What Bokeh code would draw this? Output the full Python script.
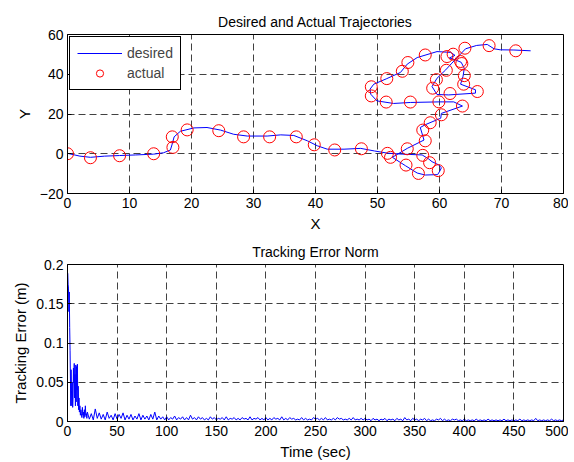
from bokeh.plotting import figure
from bokeh.layouts import column
from bokeh.models import FixedTicker, Legend, LegendItem, NumeralTickFormatter, Range1d
from bokeh.embed import file_html
from bokeh.resources import INLINE
import numpy as np

# ---------------- data: trajectories ----------------
x_desired = [0, 2, 3.7, 6, 8.4, 11, 13.9, 15.5, 16.6, 16.9, 17.2, 18.2, 20.4, 22.5, 24.7, 26.8,
             29, 32.2, 34.4, 36.5, 38.7, 40.3, 41.9, 44.6, 47.3, 49.5, 51.6, 54, 57.2, 58.2,
             58.8, 59.8, 60.3, 60.1, 59.7, 57.7, 56.4, 54.5, 52.4, 54.8, 57.5, 56.9, 57.7,
             60.2, 60.3, 63.7, 62.3, 59.9, 55.3, 52.6, 49.9, 48.9, 48.8, 49.4, 51.5, 53.7,
             54.8, 56.4, 59.6, 61.8, 62.5, 61.6, 62.6, 63.5, 64, 63.8, 63.4, 65.8, 65.8,
             61.5, 59.6, 58.8, 59.6, 61, 62, 62.9, 64.2, 66, 67.7, 68.8, 69.8, 72, 74.7]
y_desired = [0.2, -1.2, -1.8, -1.2, -0.9, -0.6, -0.2, 0.5, 1.9, 5, 8.5, 11.3, 13, 13.2, 11.9, 9.8,
             8.9, 8.9, 9.5, 9.2, 6.5, 4, 2.3, 2.3, 2.7, 1.4, 0.3, -0.2, -0.6, -2.5,
             -4, -5.5, -7, -8.5, -10.5, -10.7, -9.7, -6, -1.8, 2.7, 6.9, 13.2, 14.6,
             17.9, 20.3, 24, 26.1, 26.1, 25.8, 25.3, 26.6, 30, 32.5, 35, 37.8, 40.9,
             45.1, 48.4, 51.4, 51, 49.5, 48.2, 47.2, 46, 43, 39, 35, 32.2, 30.5,
             29.6, 29.8, 33.8, 38, 42.2, 45.6, 48.5, 52.8, 54.5, 55, 52.8, 52.3, 52.2, 51.8]

x_actual = [0, 3.7, 8.4, 13.9, 17.0, 16.9, 19.3, 24.4, 28.4, 32.6, 36.9, 39.8, 43.1, 47.4,
            51.6, 52.1, 54.8, 57.3, 58.4, 59.8, 56.6, 54.6, 57.7, 57.3, 58.5, 60.3, 63.7,
            59.9, 55.3, 51.4, 49.0, 49.0, 51.5, 54.0, 54.9, 57.7, 62.2, 61.2, 63.4, 63.6,
            64.0, 63.9, 66.1, 61.7, 58.9, 59.5, 61.1, 64.1, 68.0, 72.3]
y_actual = [0, -2, -1, 0, 3.2, 8.5, 12, 11.6, 8.5, 8.5, 8.5, 4.5, 1.9, 2.5,
            0.2, -1.8, 2.5, -0.8, -4.5, -8.5, -9.9, -5.7, 6.5, 11.9, 15.6, 19.6, 24.0,
            26.1, 26.0, 26.0, 29.1, 33.7, 37.8, 41.5, 45.9, 49.7, 50.1, 48.9, 46.4, 45.4,
            39.3, 35.0, 31.3, 30.3, 33.0, 37.3, 42.0, 53.1, 54.4, 51.8]

# ---------------- data: tracking error ----------------
t_early = [0, 0.3, 0.6, 1.0, 1.4, 1.8, 2.2, 2.6, 3.0, 3.3, 3.6, 4.0, 4.4, 4.8, 5.2, 5.6, 6.0,
           6.4, 6.8, 7.2, 7.6, 8.0, 8.4, 8.8, 9.2, 9.6, 10.0, 10.4, 10.8, 11.2, 11.6, 12.0,
           12.5, 13.0, 13.5, 14.0, 14.5, 15.0, 15.5, 16.0, 16.5, 17.0, 17.5, 18.0, 18.5,
           19.0, 19.5]
e_early = [0.19, 0.188, 0.175, 0.17, 0.14, 0.165, 0.12, 0.09, 0.05, 0.02, 0.066, 0.04, 0.02,
           0.05, 0.018, 0.03, 0.068, 0.05, 0.074, 0.03, 0.06, 0.02, 0.072, 0.025, 0.07, 0.04,
           0.073, 0.02, 0.045, 0.015, 0.03, 0.012, 0.02, 0.008, 0.015, 0.01, 0.005, 0.018,
           0.008, 0.012, 0.004, 0.015, 0.006, 0.02, 0.008, 0.01, 0.004]
e_20_100 = [0.012, 0.003, 0.010, 0.002, 0.016, 0.004, 0.011, 0.003, 0.009, 0.002, 0.012, 0.004,
            0.008, 0.002, 0.010, 0.003, 0.009, 0.004, 0.011, 0.002, 0.008, 0.003, 0.009, 0.002,
            0.007, 0.003, 0.010, 0.002, 0.008, 0.003, 0.007, 0.002, 0.009, 0.003, 0.012, 0.002,
            0.007, 0.003, 0.006, 0.002]
e_100_200 = [0.006, 0.002, 0.005, 0.003, 0.007, 0.002, 0.005, 0.003, 0.006, 0.002, 0.005, 0.002,
             0.008, 0.003, 0.005, 0.002, 0.006, 0.003, 0.005, 0.002, 0.004, 0.002, 0.006, 0.003,
             0.005, 0.002, 0.004, 0.003, 0.005, 0.002, 0.006, 0.002, 0.004, 0.003, 0.005, 0.002,
             0.004, 0.002, 0.005, 0.003, 0.004, 0.002, 0.006, 0.002, 0.004, 0.003, 0.005, 0.002,
             0.004, 0.002]
e_200_300 = [0.005, 0.002, 0.004, 0.002, 0.005, 0.003, 0.004, 0.002, 0.006, 0.002, 0.004, 0.002,
             0.005, 0.003, 0.004, 0.002, 0.003, 0.002, 0.005, 0.002, 0.004, 0.002, 0.003, 0.002,
             0.005, 0.003, 0.004, 0.002, 0.004, 0.002, 0.005, 0.002, 0.003, 0.002, 0.004, 0.002,
             0.005, 0.003, 0.004, 0.002, 0.003, 0.002, 0.004, 0.002, 0.005, 0.002, 0.003, 0.002,
             0.004, 0.002]
e_300_400 = [0.004, 0.002, 0.003, 0.001, 0.004, 0.002, 0.003, 0.001, 0.003, 0.002, 0.004, 0.001,
             0.003, 0.002, 0.003, 0.001, 0.004, 0.002, 0.003, 0.001, 0.005, 0.002, 0.003, 0.001,
             0.004, 0.002, 0.003, 0.001, 0.003, 0.002, 0.004, 0.001, 0.003, 0.001, 0.002, 0.001,
             0.003, 0.002, 0.004, 0.001, 0.003, 0.001, 0.002, 0.001, 0.003, 0.002, 0.003, 0.001,
             0.002, 0.001]
e_400_500 = [0.003, 0.001, 0.002, 0.001, 0.002, 0.001, 0.003, 0.001, 0.002, 0.001, 0.002, 0.001,
             0.003, 0.001, 0.002, 0.001, 0.002, 0.001, 0.002, 0.001, 0.003, 0.001, 0.002, 0.001,
             0.002, 0.001, 0.002, 0.001, 0.003, 0.001, 0.002, 0.001, 0.002, 0.001, 0.002, 0.001,
             0.004, 0.001, 0.002, 0.001, 0.002, 0.001, 0.002, 0.001, 0.003, 0.001, 0.002, 0.001,
             0.002, 0.001, 0.002]

x_ticks1 = [0, 10, 20, 30, 40, 50, 60, 70, 80]
y_ticks1 = [-20, 0, 20, 40, 60]
x_ticks2 = [0, 50, 100, 150, 200, 250, 300, 350, 400, 450, 500]
y_ticks2 = [0, 0.05, 0.1, 0.15, 0.2]

e_late = e_20_100 + e_100_200 + e_200_300 + e_300_400 + e_400_500
t_late = list(np.arange(20, 20 + 2 * len(e_late), 2))
t_err = t_early + t_late
e_err = e_early + e_late

FONT = "Liberation Sans"
W = 568


def style(p, xt, yt):
    p.title.text_font = FONT
    p.title.text_font_size = "14px"
    p.title.text_font_style = "normal"
    p.title.align = "center"
    p.title.text_color = "black"
    p.outline_line_color = "black"
    p.outline_line_alpha = 1
    p.background_fill_color = "white"
    for ax in (p.xaxis[0], p.yaxis[0]):
        ax.major_label_text_font = FONT
        ax.major_label_text_font_size = "14px"
        ax.major_label_text_color = "black"
        ax.axis_label_text_font = FONT
        ax.axis_label_text_font_size = "15px"
        ax.axis_label_text_font_style = "normal"
        ax.axis_label_text_color = "black"
        ax.axis_label_standoff = 4
        ax.major_tick_in = 4
        ax.major_tick_out = 0
        ax.minor_tick_in = 0
        ax.minor_tick_out = 0
        ax.axis_line_color = "black"
        ax.major_tick_line_color = "black"
        ax.major_label_standoff = 4
    p.xaxis[0].ticker = FixedTicker(ticks=xt)
    p.yaxis[0].ticker = FixedTicker(ticks=yt)
    p.xgrid[0].ticker = FixedTicker(ticks=xt)
    p.ygrid[0].ticker = FixedTicker(ticks=yt)
    for g in (p.xgrid[0], p.ygrid[0]):
        g.grid_line_color = "#111111"
        g.grid_line_alpha = 0.8
        g.grid_line_dash = "7 4"
        g.grid_line_width = 1


p1 = figure(width=W, height=236, x_range=Range1d(0, 80), y_range=Range1d(-20, 60),
            output_backend="svg", toolbar_location=None,
            title="Desired and Actual Trajectories",
            min_border_left=67, min_border_right=5, min_border_top=34, min_border_bottom=43)
style(p1, x_ticks1, y_ticks1)
p1.xaxis.axis_label = "X"
p1.yaxis.axis_label = "Y"
r_line = p1.line(x_desired, y_desired, line_color="#0000ff", line_width=1)
r_circ = p1.scatter(x_actual, y_actual, marker="circle", size=12, fill_color=None,
                    line_color="#ff0000", line_width=1)
legend = Legend(items=[LegendItem(label="desired", renderers=[r_line]),
                       LegendItem(label="actual", renderers=[r_circ])],
                location="top_left", margin=2, padding=7, spacing=2,
                glyph_width=45, glyph_height=18, label_standoff=5, label_height=18,
                label_text_font=FONT, label_text_font_size="14px",
                border_line_color="black", border_line_alpha=1,
                background_fill_color="white", background_fill_alpha=1)
p1.add_layout(legend)

p2 = figure(width=W, height=226, x_range=Range1d(0, 500), y_range=Range1d(0, 0.2),
            output_backend="svg", toolbar_location=None,
            title="Tracking Error Norm",
            min_border_left=67, min_border_right=5, min_border_top=26, min_border_bottom=41)
style(p2, x_ticks2, y_ticks2)
p2.xaxis.axis_label = "Time (sec)"
p2.yaxis.axis_label = "Tracking Error (m)"
p2.yaxis[0].formatter = NumeralTickFormatter(format="0.[00]")
p2.line(t_err, e_err, line_color="#0000ff", line_width=1)

layout = column(p1, p2, spacing=0)
open("out.html", "w").write(file_html(layout, INLINE))
